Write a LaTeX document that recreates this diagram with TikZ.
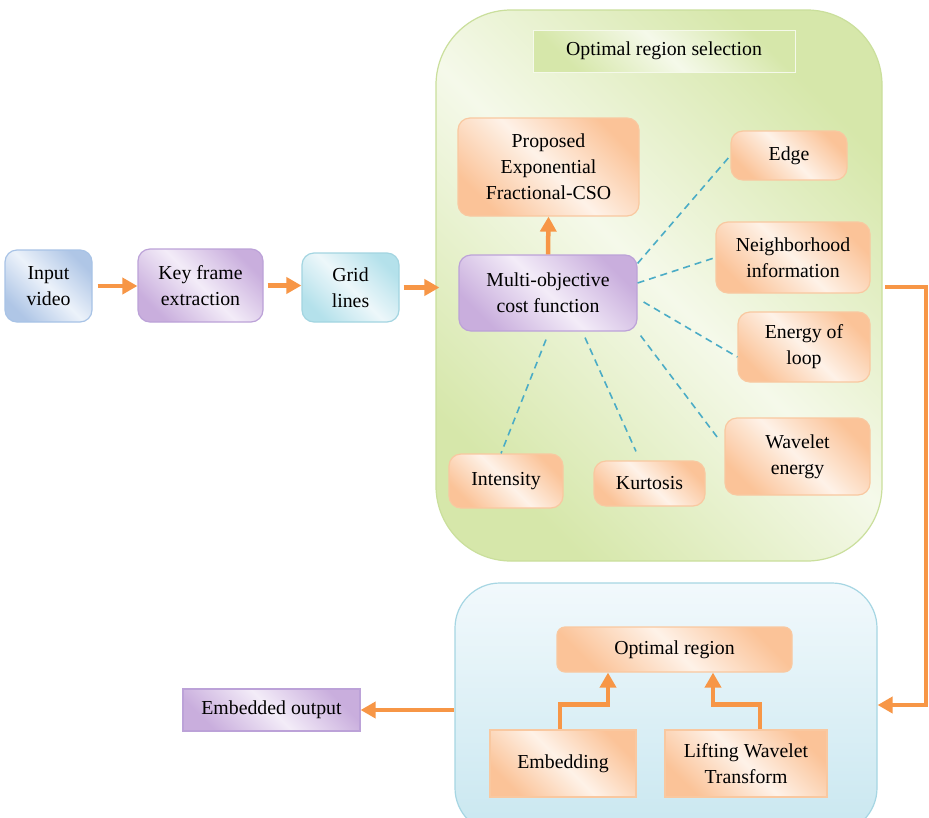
\documentclass[tikz,border=0pt]{standalone}
\usepackage{fontspec}
\setmainfont{Liberation Serif}
\usetikzlibrary{arrows.meta}
\definecolor{arrorange}{HTML}{F79646}
\definecolor{dashblue}{HTML}{4BACC6}
\definecolor{orA}{HTML}{FBC398}
\definecolor{orL}{HTML}{FEF2E8}
\definecolor{orB}{HTML}{F9C8A0}
\definecolor{puA}{HTML}{C9AEDD}
\definecolor{puL}{HTML}{F3ECF8}
\definecolor{puB}{HTML}{BCA2D8}
\definecolor{blA}{HTML}{AFC6E6}
\definecolor{blL}{HTML}{ECF2FA}
\definecolor{blB}{HTML}{A8C3E6}
\definecolor{cyA}{HTML}{B4E1EB}
\definecolor{cyL}{HTML}{EDF7FA}
\definecolor{cyB}{HTML}{A3D5E1}
\definecolor{grA}{HTML}{D6E7AA}
\definecolor{grL}{HTML}{F5F9EA}
\definecolor{grB}{HTML}{CADF9C}
\definecolor{bbT}{HTML}{F2F9FC}
\definecolor{bbM}{HTML}{DDF0F6}
\definecolor{bbB}{HTML}{C9E7F0}
\definecolor{bbD}{HTML}{A6D6E3}
\begin{document}
\begin{tikzpicture}[x=1pt,y=-1pt,
  base/.style={align=center, inner sep=0pt, font=\fontsize{19.8}{26}\selectfont, line width=1.2pt},
  diag/.style 2 args={top color=#1, bottom color=#1, middle color=#2, shading angle=-45},
  obox/.style={base, rounded corners=12pt, draw=orB, diag={orA}{orL}},
  osq/.style={base, draw=orB, diag={orA}{orL}},
  pbox/.style={base, rounded corners=12pt, draw=puB, diag={puA}{puL}},
  psq/.style={base, draw=puB, diag={puA}{puL}},
  bbox/.style={base, rounded corners=12pt, draw=blB, diag={blA}{blL}},
  cbox/.style={base, rounded corners=12pt, draw=cyB, diag={cyA}{cyL}},
  arr/.style={draw=arrorange, line width=4.5pt, -{Triangle[length=15pt,width=16pt]}},
  dl/.style={draw=dashblue, line width=1.6pt, dash pattern=on 7pt off 5pt}
]
\fill[white] (0,0) rectangle (929,817);
\useasboundingbox (0,0) rectangle (929,817);

% containers
\node[base, draw=grB, rounded corners=75pt, diag={grA}{grL}, minimum width=446pt, minimum height=551pt] (green) at (659,285.5) {};
\node[base, draw=bbD, rounded corners=45pt, top color=bbT, bottom color=bbB, middle color=bbM, minimum width=422pt, minimum height=250pt] (blue) at (666,708) {};

% left chain
\node[bbox, minimum width=87pt, minimum height=72pt] (iv) at (48.5,286) {Input\\video};
\node[pbox, minimum width=125pt, minimum height=73pt] (kf) at (200.5,285.5) {Key frame\\extraction};
\node[cbox, minimum width=97pt, minimum height=69pt] (gl) at (350.5,287.5) {Grid\\lines};

% green contents
\node[base, draw=grL, line width=1pt, diag={grA}{grL}, minimum width=262pt, minimum height=42pt] (ors) at (664,51) {Optimal region selection};
\node[obox, minimum width=181pt, minimum height=98pt] (prop) at (548.5,167) {Proposed\\Exponential\\Fractional-CSO};
\node[obox, minimum width=116pt, minimum height=49pt] (edge) at (789,155.5) {Edge};
\node[obox, minimum width=154pt, minimum height=71pt] (nei) at (793,257.5) {Neighborhood\\information};
\node[pbox, minimum width=178pt, minimum height=76pt] (multi) at (548,293) {Multi-objective\\cost function};
\node[obox, minimum width=132pt, minimum height=70pt] (eol) at (804,347) {Energy of\\loop};
\node[obox, minimum width=145pt, minimum height=77pt] (wav) at (797.5,456.5) {Wavelet\\energy};
\node[obox, minimum width=114pt, minimum height=54pt] (int) at (506,481) {Intensity};
\node[obox, minimum width=111pt, minimum height=45pt] (kurt) at (649.5,483.5) {Kurtosis};

% blue contents
\node[obox, rounded corners=8pt, minimum width=235pt, minimum height=45pt] (opt) at (674.5,649.5) {Optimal region};
\node[osq, minimum width=146pt, minimum height=67pt] (emb) at (563,763.5) {Embedding};
\node[osq, minimum width=162pt, minimum height=67pt] (lwt) at (746,763.5) {Lifting Wavelet\\Transform};
\node[psq, minimum width=177pt, minimum height=42pt] (eo) at (271.5,710) {Embedded output};

% arrows
\draw[arr, shorten <=5pt] (iv.east) -- (iv.east -| kf.west);
\draw[arr, shorten <=4pt] (kf.east) -- (kf.east -| gl.west);
\draw[arr, shorten <=4pt, shorten >=-4pt] (gl.east) -- (gl.east -| green.west);
\draw[arr] (multi.north) -- (prop.south);
\coordinate (c1) at (885,287);
\coordinate (c2) at (926,705);
\draw[arr] (c1) -| (c2) -- (c2 -| blue.east);
\draw[arr] (blue.west |- eo.east) -- (eo.east);
\draw[arr] ([xshift=-3pt]emb.north) -- ++(0,-25) -| ([xshift=-66.5pt]opt.south);
\draw[arr] ([xshift=14pt]lwt.north) -- ++(0,-25) -| ([xshift=38.5pt]opt.south);

% dashed
\draw[dl] ([yshift=-9pt]multi.north east) -- (edge.west);
\draw[dl] ([yshift=10pt]multi.east) -- (nei.west);
\draw[dl] ([shift={(6pt,-9pt)}]multi.east) -- ([yshift=-10pt]eol.west);
\draw[dl] ([shift={(3pt,-4pt)}]multi.south east) -- ([shift={(-7pt,-20pt)}]wav.north west);
\draw[dl] ([shift={(37pt,-6pt)}]multi.south) -- ([shift={(-13.5pt,9pt)}]kurt.north);
\draw[dl] ([shift={(-2pt,-8pt)}]multi.south) -- ([xshift=-5pt]int.north);
\end{tikzpicture}
\end{document}
